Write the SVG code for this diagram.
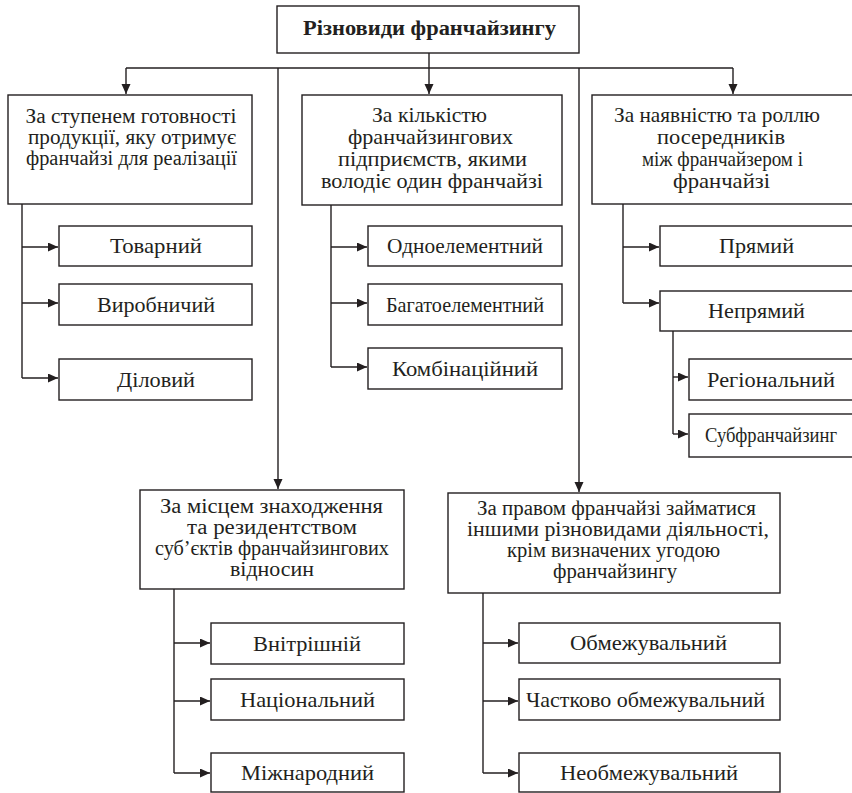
<svg xmlns="http://www.w3.org/2000/svg" width="852" height="793" viewBox="0 0 852 793" font-family="Liberation Serif, DejaVu Serif, serif">
<defs>
<marker id="ah" markerUnits="userSpaceOnUse" markerWidth="11" markerHeight="10" refX="10" refY="4.5" orient="auto">
<path d="M0,0 L10,4.5 L0,9 z" fill="#231f20"/>
</marker>
<style>
rect{fill:#fff;stroke:#231f20;stroke-width:1.4}
text{font-size:22px;fill:#231f20;text-anchor:middle}
.t{font-weight:bold;font-size:20px}
.m{font-size:21px}
.s{font-size:20px}
#connectors path{fill:none;stroke:#231f20;stroke-width:1.4}
.a{marker-end:url(#ah)}
</style>
</defs>
<rect x="0" y="0" width="852" height="793" style="fill:#fff;stroke:none"/>
<g id="connectors">
<path d="M429,53 V94" class="a"/>
<path d="M126,68 H733"/>
<path d="M126,68 V94" class="a"/>
<path d="M733,68 V94" class="a"/>
<path d="M278,68 V489" class="a"/>
<path d="M579,68 V492" class="a"/>
<path d="M22,204 V378"/>
<path d="M22,247 H58" class="a"/>
<path d="M22,303 H58" class="a"/>
<path d="M22,378 H58" class="a"/>
<path d="M331,205 V367"/>
<path d="M331,247 H367" class="a"/>
<path d="M331,303 H367" class="a"/>
<path d="M331,367 H367" class="a"/>
<path d="M623,204 V303"/>
<path d="M623,247 H659" class="a"/>
<path d="M623,303 H659" class="a"/>
<path d="M673,331 V434"/>
<path d="M673,377 H688" class="a"/>
<path d="M673,434 H688" class="a"/>
<path d="M174,589 V773"/>
<path d="M174,643 H210" class="a"/>
<path d="M174,701 H210" class="a"/>
<path d="M174,773 H210" class="a"/>
<path d="M483,593 V773"/>
<path d="M483,643 H518" class="a"/>
<path d="M483,701 H518" class="a"/>
<path d="M483,773 H518" class="a"/>
</g>
<g id="root">
<rect x="277" y="6" width="302" height="47"/>
<text class="t" x="429.5" y="35" textLength="253" lengthAdjust="spacingAndGlyphs">Різновиди франчайзингу</text>
</g>
<g id="readiness">
<rect x="8" y="95" width="244" height="109"/>
<text class="s" x="131" y="123" textLength="211" lengthAdjust="spacingAndGlyphs">За ступенем готовності</text>
<text class="s" x="132" y="144" textLength="208" lengthAdjust="spacingAndGlyphs">продукції, яку отримує</text>
<text class="s" x="131.5" y="165" textLength="211" lengthAdjust="spacingAndGlyphs">франчайзі для реалізації</text>
</g>
<g id="tovarnyi"><rect x="59" y="226" width="193" height="40"/><text x="156" y="253" textLength="92" lengthAdjust="spacingAndGlyphs">Товарний</text></g>
<g id="vyrobnychyi"><rect x="59" y="284" width="193" height="41"/><text x="156" y="312" textLength="118" lengthAdjust="spacingAndGlyphs">Виробничий</text></g>
<g id="dilovyi"><rect x="59" y="359" width="193" height="41"/><text x="156" y="387" textLength="78" lengthAdjust="spacingAndGlyphs">Діловий</text></g>
<g id="quantity">
<rect x="302" y="95" width="260" height="110"/>
<text class="m" x="429.5" y="122" textLength="115" lengthAdjust="spacingAndGlyphs">За кількістю</text>
<text class="m" x="430.5" y="144" textLength="165" lengthAdjust="spacingAndGlyphs">франчайзингових</text>
<text class="m" x="432.5" y="166" textLength="189" lengthAdjust="spacingAndGlyphs">підприємств, якими</text>
<text class="m" x="432" y="188" textLength="222" lengthAdjust="spacingAndGlyphs">володіє один франчайзі</text>
</g>
<g id="odnoelementnyi"><rect x="368" y="226" width="194" height="40"/><text x="465" y="253" textLength="156" lengthAdjust="spacingAndGlyphs">Одноелементний</text></g>
<g id="bahatoelementnyi"><rect x="368" y="284" width="194" height="41"/><text x="465" y="312" textLength="158" lengthAdjust="spacingAndGlyphs">Багатоелементний</text></g>
<g id="kombinatsiinyi"><rect x="368" y="348" width="194" height="41"/><text x="465" y="376" textLength="146" lengthAdjust="spacingAndGlyphs">Комбінаційний</text></g>
<g id="intermediaries">
<rect x="592" y="95" width="264" height="109"/>
<text class="m" x="717" y="122" textLength="206" lengthAdjust="spacingAndGlyphs">За наявністю та роллю</text>
<text class="m" x="721" y="144" textLength="128" lengthAdjust="spacingAndGlyphs">посередників</text>
<text class="m" x="722.5" y="166" textLength="161" lengthAdjust="spacingAndGlyphs">між франчайзером і</text>
<text class="m" x="721.5" y="188" textLength="97" lengthAdjust="spacingAndGlyphs">франчайзі</text>
</g>
<g id="priamyi"><rect x="660" y="226" width="196" height="40"/><text x="756.5" y="253" textLength="75" lengthAdjust="spacingAndGlyphs">Прямий</text></g>
<g id="nepriamyi"><rect x="660" y="291" width="196" height="40"/><text x="756.5" y="318" textLength="97" lengthAdjust="spacingAndGlyphs">Непрямий</text></g>
<g id="rehionalnyi"><rect x="689" y="359" width="167" height="41"/><text x="771" y="387" textLength="128" lengthAdjust="spacingAndGlyphs">Регіональний</text></g>
<g id="subfranchaising"><rect x="689" y="414" width="167" height="43"/><text x="771" y="442" textLength="132" lengthAdjust="spacingAndGlyphs">Субфранчайзинг</text></g>
<g id="location">
<rect x="140" y="490" width="264" height="99"/>
<text class="s" x="271.5" y="513" textLength="223" lengthAdjust="spacingAndGlyphs">За місцем знаходження</text>
<text class="s" x="272" y="534" textLength="170" lengthAdjust="spacingAndGlyphs">та резидентством</text>
<text class="s" x="272" y="555" textLength="234" lengthAdjust="spacingAndGlyphs">суб’єктів франчайзингових</text>
<text class="s" x="272" y="576" textLength="84" lengthAdjust="spacingAndGlyphs">відносин</text>
</g>
<g id="vnitrishnii"><rect x="211" y="623" width="193" height="41"/><text x="307" y="651" textLength="108" lengthAdjust="spacingAndGlyphs">Внітрішній</text></g>
<g id="natsionalnyi"><rect x="211" y="679" width="193" height="41"/><text x="307.5" y="707" textLength="135" lengthAdjust="spacingAndGlyphs">Національний</text></g>
<g id="mizhnarodnyi"><rect x="211" y="753" width="193" height="39"/><text x="307.5" y="780" textLength="133" lengthAdjust="spacingAndGlyphs">Міжнародний</text></g>
<g id="right">
<rect x="448" y="493" width="332" height="100"/>
<text class="s" x="616.5" y="515" textLength="279" lengthAdjust="spacingAndGlyphs">За правом франчайзі займатися</text>
<text class="s" x="618" y="536" textLength="302" lengthAdjust="spacingAndGlyphs">іншими різновидами діяльності,</text>
<text class="s" x="613.5" y="557" textLength="213" lengthAdjust="spacingAndGlyphs">крім визначених угодою</text>
<text class="s" x="615" y="578" textLength="124" lengthAdjust="spacingAndGlyphs">франчайзингу</text>
</g>
<g id="obmezhuvalnyi"><rect x="519" y="623" width="261" height="40"/><text x="648.5" y="650" textLength="157" lengthAdjust="spacingAndGlyphs">Обмежувальний</text></g>
<g id="chastkovo"><rect x="519" y="679" width="261" height="41"/><text x="645.5" y="707" textLength="239" lengthAdjust="spacingAndGlyphs">Частково обмежувальний</text></g>
<g id="neobmezhuvalnyi"><rect x="519" y="753" width="261" height="39"/><text x="649" y="780" textLength="178" lengthAdjust="spacingAndGlyphs">Необмежувальний</text></g>
</svg>
